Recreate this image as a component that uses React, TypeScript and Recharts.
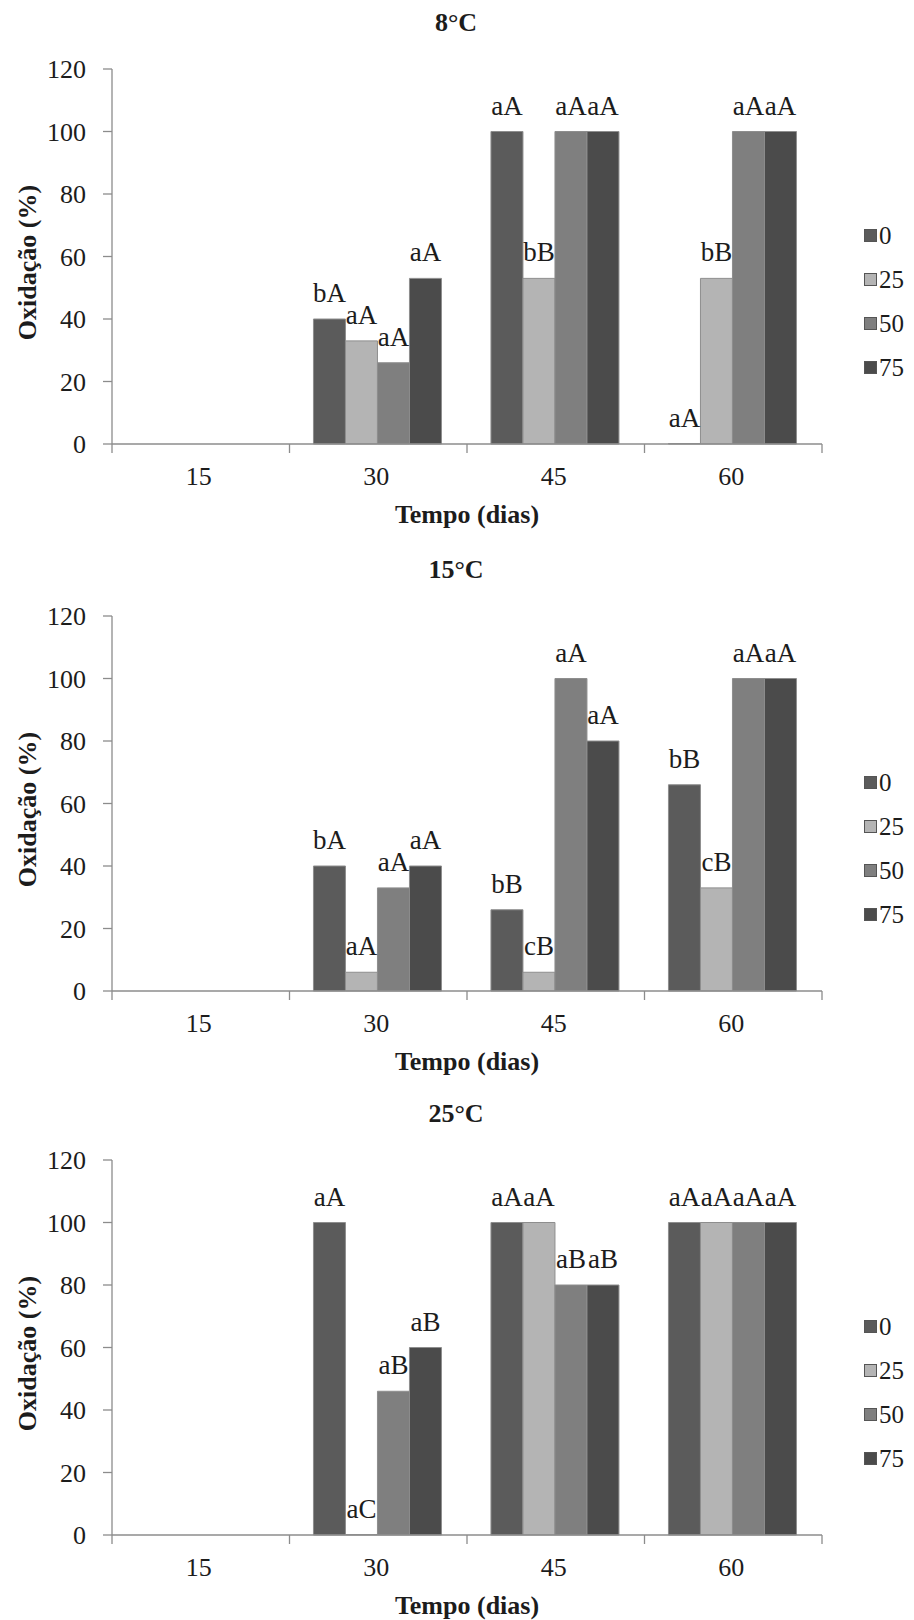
import React from 'react';
import { BarChart, Bar, XAxis, YAxis, LabelList } from 'recharts';

// ---------- data ----------
const categories = ['15', '30', '45', '60'];
const seriesNames = ['0', '25', '50', '75'];
const seriesColors = ['#5b5b5b', '#b4b4b4', '#7f7f7f', '#4b4b4b'];
const yTicks = [0, 20, 40, 60, 80, 100, 120];
const titles = ['8°C', '15°C', '25°C'];

// 8 °C
const t8_v0 = [0, 40, 100, 0];
const t8_v25 = [0, 33, 53, 53];
const t8_v50 = [0, 26, 100, 100];
const t8_v75 = [0, 53, 100, 100];
const t8_l0 = [null, 'bA', 'aA', 'aA'];
const t8_l25 = [null, 'aA', 'bB', 'bB'];
const t8_l50 = [null, 'aA', 'aA', 'aA'];
const t8_l75 = [null, 'aA', 'aA', 'aA'];

// 15 °C
const t15_v0 = [0, 40, 26, 66];
const t15_v25 = [0, 6, 6, 33];
const t15_v50 = [0, 33, 100, 100];
const t15_v75 = [0, 40, 80, 100];
const t15_l0 = [null, 'bA', 'bB', 'bB'];
const t15_l25 = [null, 'aA', 'cB', 'cB'];
const t15_l50 = [null, 'aA', 'aA', 'aA'];
const t15_l75 = [null, 'aA', 'aA', 'aA'];

// 25 °C
const t25_v0 = [0, 100, 100, 100];
const t25_v25 = [0, 0, 100, 100];
const t25_v50 = [0, 46, 80, 100];
const t25_v75 = [0, 60, 80, 100];
const t25_l0 = [null, 'aA', 'aA', 'aA'];
const t25_l25 = [null, 'aC', 'aA', 'aA'];
const t25_l50 = [null, 'aB', 'aB', 'aA'];
const t25_l75 = [null, 'aB', 'aB', 'aA'];

function buildRows(values: number[][], labels: (string | null)[][]) {
  return categories.map((cat, i) => {
    const row: any = { cat };
    seriesNames.forEach((s, k) => {
      row['v' + s] = values[k][i];
      row['l' + s] = labels[k][i];
    });
    return row;
  });
}

const panels = [
  buildRows([t8_v0, t8_v25, t8_v50, t8_v75], [t8_l0, t8_l25, t8_l50, t8_l75]),
  buildRows([t15_v0, t15_v25, t15_v50, t15_v75], [t15_l0, t15_l25, t15_l50, t15_l75]),
  buildRows([t25_v0, t25_v25, t25_v50, t25_v75], [t25_l0, t25_l25, t25_l50, t25_l75]),
];

// ---------- styling ----------
const W = 914;
const H = 547;
const PANEL_TOPS = [0, 547, 1091];
const FONT = '"Liberation Serif", "Times New Roman", Times, serif';
const AXIS = '#8c8c8c';
const TEXT = '#1c1c1c';
const TICK_SIZE = 9;
const TICK_MARGIN = 0;

const XTick = (props: any) => {
  const { x, y, payload, index, visibleTicksCount, width } = props;
  const half =
    payload && typeof payload.offset === 'number' && payload.offset > 0
      ? payload.offset
      : width / visibleTicksCount / 2;
  const axisY = y - TICK_SIZE - TICK_MARGIN;
  return (
    <g>
      <line x1={x - half} x2={x - half} y1={axisY} y2={axisY + TICK_SIZE} stroke={AXIS} strokeWidth={1.3} />
      {index === visibleTicksCount - 1 && (
        <line x1={x + half} x2={x + half} y1={axisY} y2={axisY + TICK_SIZE} stroke={AXIS} strokeWidth={1.3} />
      )}
      <text x={x - 2} y={axisY + 41} textAnchor="middle" fill={TEXT} fontFamily={FONT} fontSize={26}>
        {payload.value}
      </text>
    </g>
  );
};

const YLabel = (props: any) => {
  const vb = props.viewBox || {};
  const cx = 27;
  const cy = vb.y + vb.height / 2 + 6;
  return (
    <text
      x={cx}
      y={cy}
      transform={`rotate(-90, ${cx}, ${cy})`}
      textAnchor="middle"
      dominantBaseline="central"
      fill={TEXT}
      fontFamily={FONT}
      fontWeight="bold"
      fontSize={26}
    >
      Oxidação (%)
    </text>
  );
};

const XLabel = (props: any) => {
  const vb = props.viewBox || {};
  const cx = vb.x + vb.width / 2;
  return (
    <text x={cx} y={vb.y + 79} textAnchor="middle" fill={TEXT} fontFamily={FONT} fontWeight="bold" fontSize={26}>
      Tempo (dias)
    </text>
  );
};

function Panel({ rows, title, top }: { rows: any[]; title: string; top: number }) {
  return (
    <div style={{ position: 'absolute', left: 0, top, width: W, height: H }}>
      <BarChart
        width={W}
        height={H}
        data={rows}
        margin={{ top: 69, right: 92, bottom: 43, left: 32 }}
        barCategoryGap="13.5%"
        barGap={0}
      >
        <XAxis
          dataKey="cat"
          height={60}
          axisLine={{ stroke: AXIS, strokeWidth: 1.3 }}
          tickLine={false}
          tickSize={TICK_SIZE}
          tickMargin={TICK_MARGIN}
          tick={<XTick />}
          interval={0}
          label={<XLabel />}
        />
        <YAxis
          width={80}
          domain={[0, 120]}
          ticks={yTicks}
          interval={0}
          axisLine={{ stroke: AXIS, strokeWidth: 1.3 }}
          tickLine={{ stroke: AXIS, strokeWidth: 1.3 }}
          tickSize={TICK_SIZE}
          tickMargin={17}
          tick={{ fill: TEXT, fontFamily: FONT, fontSize: 26 }}
          label={<YLabel />}
        />
        {seriesNames.map((s, k) => (
          <Bar
            key={s}
            dataKey={'v' + s}
            name={s}
            fill={seriesColors[k]}
            stroke="#8e8e8e"
            strokeWidth={1}
            isAnimationActive={false}
            minPointSize={(value: any, index: number) =>
              value === 0 && rows[index] && rows[index]['l' + s] != null ? 0.4 : 0
            }
          >
            <LabelList
              dataKey={'l' + s}
              position="top"
              offset={17}
              fill={TEXT}
              fontFamily={FONT}
              fontSize={27}
            />
          </Bar>
        ))}
      </BarChart>
      <div
        style={{
          position: 'absolute',
          left: 0,
          top: 8,
          width: 912,
          textAlign: 'center',
          fontFamily: FONT,
          fontWeight: 'bold',
          fontSize: 26,
          lineHeight: '30px',
          color: TEXT,
        }}
      >
        {title}
      </div>
      <div style={{ position: 'absolute', left: 864, top: 213, fontFamily: FONT, fontSize: 25, color: TEXT }}>
        {seriesNames.map((s, k) => (
          <div key={s} style={{ height: 44, display: 'flex', alignItems: 'center' }}>
            <span
              style={{
                display: 'inline-block',
                width: 11,
                height: 11,
                background: seriesColors[k],
                border: '1px solid #555',
                marginRight: 2,
              }}
            />
            <span style={{ lineHeight: 1 }}>{s}</span>
          </div>
        ))}
      </div>
    </div>
  );
}

export default function App() {
  return (
    <div
      style={{
        position: 'absolute',
        left: 0,
        top: 0,
        width: 914,
        height: 1620,
        background: '#ffffff',
        overflow: 'hidden',
      }}
    >
      {panels.map((rows, i) => (
        <Panel key={i} rows={rows} title={titles[i]} top={PANEL_TOPS[i]} />
      ))}
    </div>
  );
}
